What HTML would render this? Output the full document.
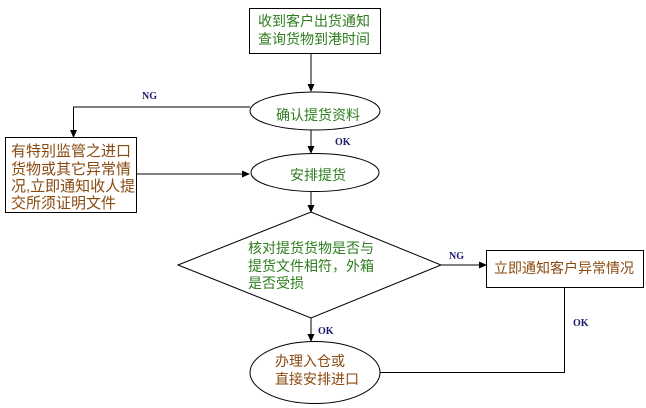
<!DOCTYPE html>
<html><head><meta charset="utf-8"><style>
html,body{margin:0;padding:0;background:#fff;}
svg{display:block;}
.g{fill:#2e7d1e;font-family:"Liberation Sans","Noto Sans CJK SC","WenQuanYi Zen Hei",sans-serif;font-size:14px;}
.b{fill:#8a4a10;font-family:"Liberation Sans","Noto Sans CJK SC","WenQuanYi Zen Hei",sans-serif;font-size:14px;}
.b15{font-size:15px;}
.l{fill:#1a1a6e;font-family:"Liberation Serif",serif;font-size:10px;font-weight:bold;}
</style></head><body>
<svg width="646" height="408" viewBox="0 0 646 408" xmlns="http://www.w3.org/2000/svg">
<defs><marker id="a" markerWidth="8" markerHeight="8" refX="7" refY="4" orient="auto" markerUnits="userSpaceOnUse"><path d="M0,0.5 L8,4 L0,7.5 Z" fill="#000"/></marker></defs>
<g stroke="#000" stroke-width="1" fill="none">
<rect x="249.5" y="8.5" width="131" height="45"/>
<ellipse cx="315" cy="111" rx="65" ry="19"/>
<rect x="5.5" y="137.5" width="131" height="75"/>
<ellipse cx="315" cy="172.5" rx="64" ry="19"/>
<path d="M178,265 L311,212 L441,265 L311,318 Z"/>
<rect x="486.5" y="250.5" width="157" height="37"/>
<ellipse cx="315" cy="372.5" rx="65" ry="31"/>
<line x1="311" y1="53" x2="311" y2="91" marker-end="url(#a)"/>
<polyline points="250,107 73.5,107 73.5,137" marker-end="url(#a)"/>
<line x1="311" y1="130" x2="311" y2="153" marker-end="url(#a)"/>
<line x1="136" y1="174" x2="249" y2="174" marker-end="url(#a)"/>
<line x1="311" y1="192" x2="311" y2="212" marker-end="url(#a)"/>
<line x1="441" y1="265" x2="486" y2="265" marker-end="url(#a)"/>
<line x1="311" y1="318" x2="311" y2="341" marker-end="url(#a)"/>
<polyline points="564.5,288 564.5,372.5 380,372.5"/>
</g>
<text class="g" x="258" y="26">收到客户出货通知</text>
<text class="g" x="258" y="44">查询货物到港时间</text>
<text class="g" x="276" y="120">确认提货资料</text>
<text class="g" x="290" y="180">安排提货</text>
<text class="b b15" x="11" y="156">有特别监管之进口</text>
<text class="b b15" x="11" y="174">货物或其它异常情</text>
<text class="b b15" x="11" y="191">况,立即通知收人提</text>
<text class="b b15" x="11" y="208">交所须证明文件</text>
<text class="g" x="248" y="253">核对提货货物是否与</text>
<text class="g" x="248" y="271">提货文件相符，外箱</text>
<text class="g" x="248" y="288">是否受损</text>
<text class="b" x="494" y="273">立即通知客户异常情况</text>
<text class="b" x="275" y="366">办理入仓或</text>
<text class="b" x="275" y="384">直接安排进口</text>
<text class="l" x="142" y="99">NG</text>
<text class="l" x="335" y="145">OK</text>
<text class="l" x="449" y="259">NG</text>
<text class="l" x="318" y="334">OK</text>
<text class="l" x="573" y="326">OK</text>
</svg>
</body></html>
